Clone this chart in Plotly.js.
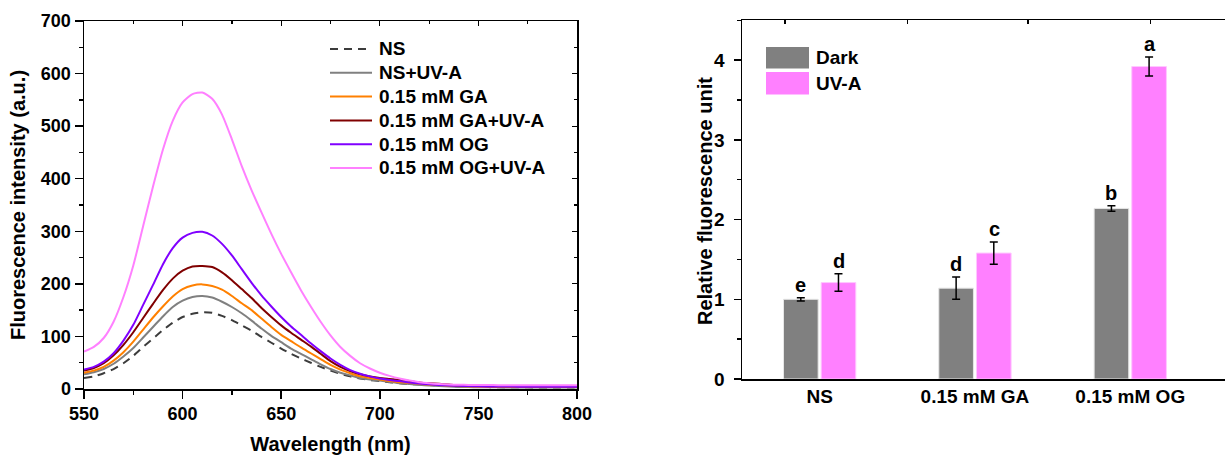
<!DOCTYPE html>
<html>
<head>
<meta charset="utf-8">
<script src="https://cdn.plot.ly/plotly-3.0.1.min.js"></script>
<style>
  html, body { margin: 0; padding: 0; background: #ffffff; }
  #chart { width: 1225px; height: 458px; }
</style>
</head>
<body>
<div id="chart"></div>
<script>
// ---------- Left panel: fluorescence spectra ----------
const wavelength = [550,555,560,565,570,575,580,585,590,595,600,605,610,615,620,625,630,635,640,645,650,655,660,665,670,675,680,685,690,695,700,705,710,715,720,725,730,735,740,745,750,755,760,765,770,775,780,785,790,795,800];

const seriesNames = ["NS", "NS+UV-A", "0.15 mM GA", "0.15 mM GA+UV-A", "0.15 mM OG", "0.15 mM OG+UV-A"];

const ns = [21,24,30,38,49,63,80,96,112,126,137,143,146,145,139,131,121,111,99,88,77,67,58,50,42,35,29,24,20,17,15,13,11,9.5,8.5,7.6,6.5,5.5,4.8,4.2,3.8,3.6,3.4,3.3,3.2,3.1,3,3,3,3,3];
const nsUV = [28,32,38,48,62,78,98,118,138,156,168,175,177,174,166,156,144,130,115,101,89,77,67,57,47,38,31,26,21,18,16,13.5,11,9.5,8,6.5,5.5,4.6,4,3.6,3.3,3.2,3.1,3,3,3,3,3,3,3,3];
const ga = [31,35,42,54,70,90,113,136,157,176,190,197,199,196,189,177,163,150,134,118,103,91,79,68,57,46,37,30,24,21,18,15,13,11.5,10,8.5,7.5,6.5,5.6,5,4.6,4.4,4.2,4.1,4,4,4,4,4,4,4];
const gaUV = [35,40,49,64,84,108,135,162,188,210,225,233,234,232,222,207,190,173,154,137,121,107,94,81,67,53,42,34,28,24,21,19,17,15,12.5,11,10,8.5,7,6.2,5.7,5.4,5.2,5.1,5,5,5,5,5,5,5];
const og = [37,42,52,68,92,122,160,198,237,268,288,297,299,292,276,254,228,202,178,157,137,119,103,87,72,58,46,36,29,24,20,17,15,12.5,10.5,9,7.6,6.8,6,5.5,5,4.8,4.7,4.6,4.5,4.5,4.5,4.5,4.5,4.5,4.5];
const ogUV = [71,80,97,128,175,235,310,385,455,510,545,561,564,552,522,475,424,378,336,295,257,222,188,157,128,102,80,63,49,39,31,25,20,16,13,11,9.5,8.5,8,7.8,7.6,7.5,7.3,7.2,7.1,7,7,7,7,7,7];

const spectra = [ns, nsUV, ga, gaUV, og, ogUV];
const lineColors = ["#3c3c3c", "#808080", "#ff8000", "#800000", "#8000ff", "#ff80ff"];
const lineDash = ["8px,6px", "solid", "solid", "solid", "solid", "solid"];

// ---------- Right panel: relative fluorescence ----------
const groups = ["NS", "0.15 mM GA", "0.15 mM OG"];
const barNames = ["Dark", "UV-A"];
const darkVals = [1.00, 1.14, 2.14];
const darkErr = [0.02, 0.14, 0.035];
const uvaVals = [1.21, 1.58, 3.92];
const uvaErr = [0.11, 0.14, 0.12];
const darkLetters = ["e", "d", "b"];
const uvaLetters = ["d", "c", "a"];
const barColors = ["#808080", "#ff80ff"];

const W = 1225, H = 458;
const FONT = "Liberation Sans, Arial, Helvetica, sans-serif";
const px = v => v / W;
const py = v => (H - v) / H;
const boldFont = (size) => ({ family: FONT, size: size, color: "#000", weight: 700 });

const traces = [];
spectra.forEach((s, i) => {
  traces.push({
    type: "scatter", mode: "lines",
    x: wavelength, y: s, name: seriesNames[i], showlegend: false,
    xaxis: "x", yaxis: "y",
    line: { color: lineColors[i], width: 2, dash: lineDash[i], shape: "spline", smoothing: 0.6 },
    hoverinfo: "skip"
  });
});
// carrier traces for the tick-only frame axes
traces.push({ type: "scatter", mode: "lines", x: [], y: [], xaxis: "x3", yaxis: "y3", showlegend: false, hoverinfo: "skip" });
traces.push({ type: "scatter", mode: "lines", x: [], y: [], xaxis: "x4", yaxis: "y2", showlegend: false, hoverinfo: "skip" });

traces.push({
  type: "bar", x: groups, y: darkVals, name: barNames[0],
  xaxis: "x2", yaxis: "y2", showlegend: false,
  marker: { color: barColors[0], line: { color: "#e6e6e6", width: 1 } },
  error_y: { type: "data", array: darkErr, visible: true, color: "#000000", thickness: 1.5, width: 4 },
  hoverinfo: "skip"
});
traces.push({
  type: "bar", x: groups, y: uvaVals, name: barNames[1],
  xaxis: "x2", yaxis: "y2", showlegend: false,
  marker: { color: barColors[1], line: { color: "#ffc8ff", width: 1 } },
  error_y: { type: "data", array: uvaErr, visible: true, color: "#000000", thickness: 1.5, width: 4 },
  hoverinfo: "skip"
});

const annotations = [];
const shapes = [];
const off = 0.125;
groups.forEach((g, i) => {
  annotations.push({
    xref: "x2", yref: "y2", x: i - off, y: darkVals[i] + darkErr[i],
    text: darkLetters[i], showarrow: false, yanchor: "bottom", yshift: 0, font: boldFont(20)
  });
  annotations.push({
    xref: "x2", yref: "y2", x: i + off, y: uvaVals[i] + uvaErr[i],
    text: uvaLetters[i], showarrow: false, yanchor: "bottom", yshift: 0, font: boldFont(20)
  });
});

// left legend (drawn manually for exact row spacing)
const legTop = 49, legStep = 23.8;
seriesNames.forEach((n, i) => {
  const yc = legTop + i * legStep;
  shapes.push({ type: "line", xref: "paper", yref: "paper", x0: px(330), x1: px(372), y0: py(yc), y1: py(yc),
    line: { color: lineColors[i], width: 2, dash: lineDash[i] } });
  annotations.push({ xref: "paper", yref: "paper", x: px(377), y: py(yc), xanchor: "left", yanchor: "middle",
    text: n, showarrow: false, font: boldFont(19) });
});

// right legend (large swatches)
shapes.push({ type: "rect", xref: "paper", yref: "paper", x0: px(766), x1: px(809), y0: py(68.5), y1: py(47), fillcolor: barColors[0], line: { width: 0 } });
shapes.push({ type: "rect", xref: "paper", yref: "paper", x0: px(766), x1: px(809), y0: py(94.5), y1: py(72), fillcolor: barColors[1], line: { width: 0 } });
annotations.push({ xref: "paper", yref: "paper", x: px(814), y: py(58), xanchor: "left", yanchor: "middle", text: barNames[0], showarrow: false, font: boldFont(19) });
annotations.push({ xref: "paper", yref: "paper", x: px(814), y: py(83), xanchor: "left", yanchor: "middle", text: barNames[1], showarrow: false, font: boldFont(19) });

// right y-axis title
annotations.push({ xref: "paper", yref: "paper", x: px(705), y: py(201), xanchor: "center", yanchor: "middle", textangle: -90,
  text: "Relative fluorescence unit", showarrow: false, font: boldFont(20) });

const axCommon = {
  showline: true, linecolor: "#000", linewidth: 1.5, showgrid: false, zeroline: false,
  tickcolor: "#000", tickwidth: 1.5, ticks: "outside",
  tickfont: boldFont(18)
};

const layout = {
  width: W, height: H,
  margin: { l: 0, r: 0, t: 0, b: 0, pad: 0 },
  paper_bgcolor: "#fff", plot_bgcolor: "rgba(0,0,0,0)",
  font: { family: FONT, color: "#000" },
  showlegend: false,
  barmode: "group", bargap: 0.515, bargroupgap: 0.08,
  xaxis: Object.assign({}, axCommon, {
    domain: [px(84), px(577)], anchor: "y", range: [550, 800], dtick: 50, tick0: 550,
    ticklen: 8, mirror: true,
    minor: { dtick: 25, ticks: "outside", ticklen: 4, tickcolor: "#000", tickwidth: 1.5 },
    title: { text: "Wavelength (nm)", standoff: 14, font: boldFont(20) }
  }),
  yaxis: Object.assign({}, axCommon, {
    domain: [py(389), py(21)], anchor: "x", range: [0, 700], dtick: 100, tick0: 0,
    ticklen: 8, mirror: true,
    minor: { dtick: 50, ticks: "outside", ticklen: 4, tickcolor: "#000", tickwidth: 1.5 },
    title: { text: "Fluorescence intensity (a.u.)", standoff: 10, font: boldFont(20) }
  }),
  xaxis3: {
    overlaying: "x", side: "top", anchor: "y3", range: [550, 800], dtick: 50, tick0: 550,
    showline: false, showgrid: false, zeroline: false, showticklabels: false,
    ticks: "inside", ticklen: 5, tickwidth: 1.2, tickcolor: "#000",
    minor: { dtick: 25, ticks: "inside", ticklen: 3, tickcolor: "#000", tickwidth: 1.2 }
  },
  yaxis3: {
    overlaying: "y", side: "right", anchor: "x3", range: [0, 700], dtick: 100, tick0: 0,
    showline: false, showgrid: false, zeroline: false, showticklabels: false,
    ticks: "inside", ticklen: 5, tickwidth: 1.2, tickcolor: "#000",
    minor: { dtick: 50, ticks: "inside", ticklen: 3, tickcolor: "#000", tickwidth: 1.2 }
  },
  xaxis2: Object.assign({}, axCommon, {
    domain: [px(742), 1], anchor: "y2", type: "category", range: [-0.5, 2.61],
    ticks: "", mirror: true,
    tickfont: boldFont(19)
  }),
  xaxis4: {
    overlaying: "x2", side: "top", anchor: "y2", range: [0, 1],
    tickmode: "array", tickvals: [0.089, 0.342, 0.592, 0.845],
    showline: false, showgrid: false, zeroline: false, showticklabels: false,
    ticks: "inside", ticklen: 4, tickwidth: 1.2, tickcolor: "#000"
  },
  yaxis2: Object.assign({}, axCommon, {
    domain: [py(379), py(20.3)], anchor: "x2", range: [0, 4.5], dtick: 1, tick0: 0,
    ticklen: 7, mirror: false, ticklabelstandoff: 5,
    minor: { dtick: 0.5, ticks: "outside", ticklen: 4, tickcolor: "#000", tickwidth: 1.5 },
    tickfont: boldFont(19)
  }),
  annotations: annotations,
  shapes: shapes
};

Plotly.newPlot("chart", traces, layout, { staticPlot: true, displayModeBar: false });
</script>
</body>
</html>
